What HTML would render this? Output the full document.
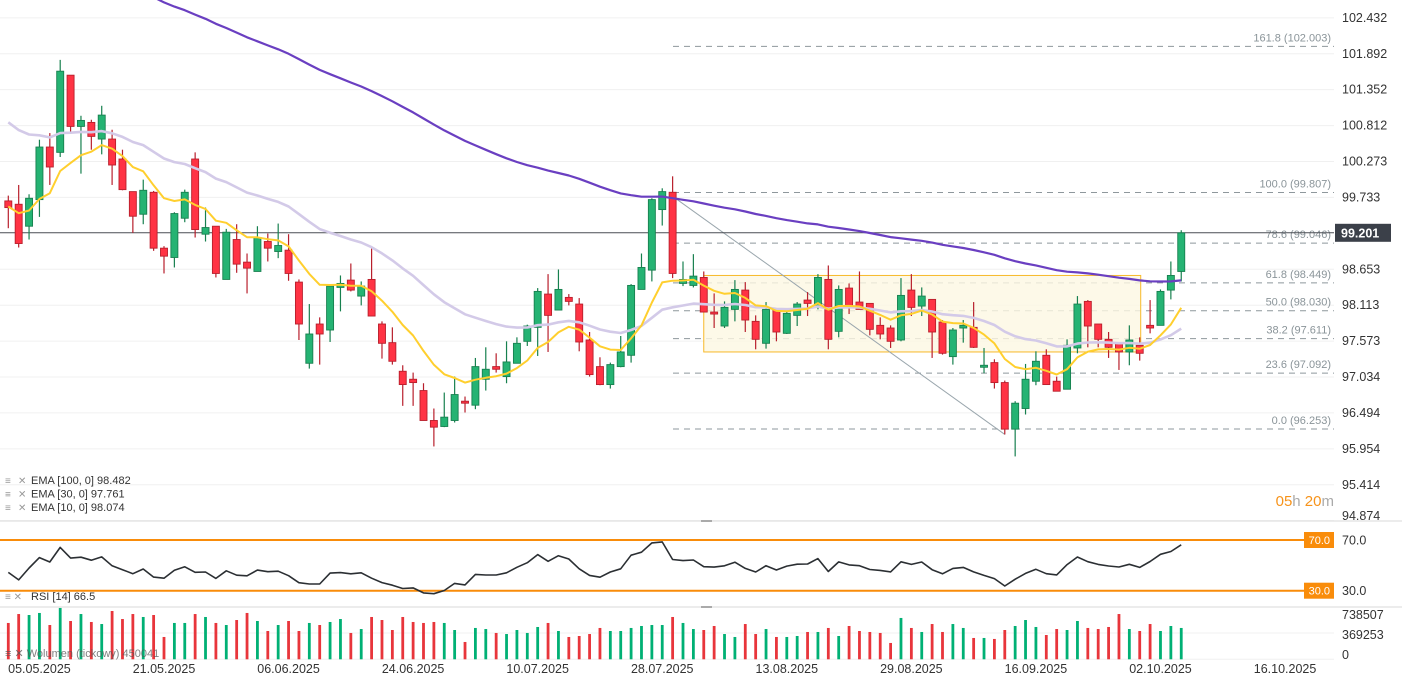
<!DOCTYPE html>
<html><head><meta charset="utf-8">
<style>
html,body{margin:0;padding:0;background:#fff;}
svg{display:block;font-family:"Liberation Sans",sans-serif;}
</style></head>
<body>
<svg id="chart" width="1402" height="689" viewBox="0 0 1402 689" xmlns="http://www.w3.org/2000/svg">
<defs><clipPath id="mainClip"><rect x="0" y="0" width="1334" height="520"/></clipPath></defs>
<g id="grid"></g>
<g id="fib"></g>
<g id="main" clip-path="url(#mainClip)"></g>
<g id="rsi"></g>
<g id="vol"></g>
<g id="axes"></g>
</svg>
<script>
// ---- data ----
const dates = ["05.05.2025","21.05.2025","06.06.2025","24.06.2025","10.07.2025","28.07.2025","13.08.2025","29.08.2025","16.09.2025","02.10.2025","16.10.2025"];
const dateIdx = [3,15,27,39,51,63,75,87,99,111,123];
const opens = [99.68,99.63,99.30,99.70,100.49,100.41,101.57,100.80,100.86,100.61,100.61,100.31,99.82,99.48,99.81,98.97,98.83,99.42,100.31,99.18,99.30,98.50,99.10,98.76,98.62,99.07,98.92,98.94,98.46,97.24,97.83,97.74,98.38,98.49,98.25,98.50,97.83,97.55,97.12,97.00,96.83,96.38,96.29,96.38,96.67,96.61,97.00,97.19,97.04,97.24,97.57,97.78,98.28,98.04,98.23,98.13,97.59,97.19,96.92,97.19,97.36,98.35,98.64,99.55,99.81,98.44,98.41,98.53,98.01,97.80,98.05,98.34,97.87,97.54,98.04,97.69,97.96,98.19,98.08,98.50,97.72,98.37,98.16,98.14,97.81,97.77,97.59,98.34,98.10,98.20,97.86,97.34,97.77,97.78,97.18,97.25,96.95,96.25,96.56,96.97,97.36,96.97,96.85,97.47,98.17,97.83,97.60,97.53,97.41,97.51,97.81,97.81,98.34,98.62];
const highs = [99.76,99.92,99.78,100.60,100.70,101.80,101.57,100.96,100.90,101.11,100.75,100.45,99.82,100.00,99.83,99.00,99.51,99.85,100.41,99.58,99.30,99.26,99.33,98.89,99.30,99.19,99.34,99.18,98.50,98.13,97.93,98.40,98.56,98.74,98.47,98.97,97.87,97.78,97.21,97.10,96.94,96.56,96.80,97.04,96.74,97.32,97.48,97.39,97.57,97.63,97.82,98.37,98.58,98.65,98.28,98.22,97.71,97.33,97.25,97.65,98.43,98.89,99.72,99.87,100.05,98.77,98.88,98.62,98.29,98.17,98.49,98.46,97.96,98.16,98.07,98.02,98.16,98.31,98.58,98.71,98.41,98.44,98.62,98.14,97.93,97.81,98.52,98.58,98.38,98.20,97.89,97.77,97.89,98.16,97.47,97.30,96.98,96.67,97.23,97.42,97.45,97.04,97.60,98.25,98.19,97.83,97.71,97.53,97.81,97.63,98.19,98.35,98.77,99.24];
const lows = [99.27,98.98,99.10,99.44,99.92,100.34,100.72,100.09,100.45,100.38,99.92,99.84,99.20,99.33,98.93,98.59,98.68,99.36,99.13,99.07,98.53,98.50,98.60,98.29,98.62,98.77,98.82,98.48,97.59,97.16,97.22,97.56,98.02,98.32,98.11,97.95,97.31,97.22,96.60,96.60,96.38,95.99,96.28,96.35,96.50,96.55,96.83,97.10,96.94,97.24,97.50,97.35,97.41,98.04,98.11,97.42,97.04,96.91,96.86,97.18,97.25,98.35,98.47,99.31,98.52,98.40,98.38,98.01,97.77,97.77,97.87,97.71,97.45,97.46,97.57,97.68,97.80,97.95,98.05,97.45,97.63,97.98,98.05,97.66,97.60,97.47,97.57,97.95,97.95,97.32,97.37,97.22,97.55,97.47,97.09,96.86,96.17,95.84,96.47,96.91,96.92,96.82,96.85,97.39,97.48,97.48,97.32,97.14,97.21,97.28,97.69,97.81,98.20,98.47];
const closes = [99.58,99.04,99.72,100.49,100.19,101.63,100.80,100.89,100.65,100.97,100.22,99.85,99.45,99.84,98.97,98.85,99.49,99.81,99.25,99.28,98.59,99.21,98.73,98.67,99.13,98.97,99.01,98.59,97.83,97.68,97.68,98.40,98.44,98.34,98.40,97.95,97.54,97.27,96.92,96.95,96.38,96.28,96.43,96.77,96.64,97.19,97.15,97.15,97.26,97.54,97.80,98.32,97.96,98.35,98.17,97.56,97.07,96.92,97.22,97.41,98.41,98.68,99.70,99.82,98.59,98.50,98.55,98.01,97.98,98.08,98.35,97.89,97.60,98.05,97.71,97.99,98.13,98.14,98.53,97.60,98.35,98.11,98.05,97.75,97.68,97.57,98.26,98.08,98.25,97.71,97.39,97.74,97.81,97.48,97.21,96.95,96.25,96.64,97.00,97.27,96.92,96.82,97.51,98.13,97.80,97.60,97.48,97.41,97.59,97.39,97.77,98.32,98.56,99.20];
const volumesK = [516,643,629,658,487,729,544,643,530,501,686,572,643,601,629,317,516,516,643,601,516,487,558,658,544,402,487,544,402,516,487,530,572,374,430,601,558,416,601,530,516,530,516,416,246,445,430,374,359,416,374,459,516,402,317,331,359,445,402,402,445,473,487,487,601,516,430,416,473,359,317,501,359,430,317,317,331,388,388,445,331,473,402,388,374,232,587,445,388,501,388,501,445,303,303,289,416,473,558,459,345,430,416,544,445,430,459,643,430,402,501,402,473,445];
const priceTicks = [102.432,101.892,101.352,100.812,100.273,99.733,98.653,98.113,97.573,97.034,96.494,95.954,95.414,94.874];
const fibPct = ["161.8","100.0","78.6","61.8","50.0","38.2","23.6","0.0"];
const fibPrice = [102.003,99.807,99.046,98.449,98.030,97.611,97.092,96.253];
const emaPeriods = [100,30,10];
const emaSeeds = [103.65,100.95,99.60];
const emaLast = ["98.482","97.761","98.074"];
const lastPrice = 99.201;
const rsiSeedGain = 0.12, rsiSeedLoss = 0.15, rsiLast = "66.5";
const volMax = 738507;

// ---- scales ----
const NS="http://www.w3.org/2000/svg";
const X0=8.3, DX=10.38;
const xC = i => X0 + i*DX;
const yP = p => (102.70 - p)/0.01503;
const yR = v => 590.7 - (v-30)*(50.7/40);
const yV = v => 659.3 - v/volMax*52;
function mk(tag, attrs, parent){const e=document.createElementNS(NS,tag);for(const k in attrs)e.setAttribute(k,attrs[k]);parent.appendChild(e);return e;}
const grid=document.getElementById('grid'), fib=document.getElementById('fib'), main=document.getElementById('main'), rsiG=document.getElementById('rsi'), volG=document.getElementById('vol'), axes=document.getElementById('axes');

// grid + price axis
priceTicks.forEach((p,i)=>{
  const y=yP(p);
  const l=mk('line',{x1:0,x2:1334,y1:y,y2:y,stroke:'#f0f0f0','stroke-width':1},grid);
  
  
  const t=mk('text',{x:1342,y:Math.min(y,516)+4,'font-size':12.5,fill:'#333'},axes);
  t.textContent=p.toFixed(3);
  
  
});
// pane separators
[[521,'rsi-pane-separator'],[607,'volume-pane-separator']].forEach(([y,n])=>{
  const l=mk('line',{x1:0,x2:1402,y1:y,y2:y,stroke:'#d8d8d8','stroke-width':1},axes);
  
  
  const h=mk('rect',{x:701,y:y-1,width:11,height:2,fill:'#aaa'},axes);
  
  
});
[633,659.3].forEach(y=>{const l=mk('line',{x1:0,x2:1334,y1:y,y2:y,stroke:'#f0f0f0'},grid);
  
  });

// fib retracement
fibPrice.forEach((p,i)=>{
  const y=yP(p);
  const l=mk('line',{x1:673,x2:1334,y1:y,y2:y,stroke:'#8e979c','stroke-width':1,'stroke-dasharray':'6 5'},fib);
  
  
  const t=mk('text',{x:1331,y:y-5,'font-size':11,fill:'#8a9499','text-anchor':'end'},fib);
  t.textContent=fibPct[i]+' ('+p.toFixed(3)+')';
  
  
});
// range rectangle
const rect=mk('rect',{x:xC(67),y:yP(98.56),width:xC(109)-xC(67)+1,height:yP(97.41)-yP(98.56),fill:'#fdf7e2','fill-opacity':0.8,stroke:'#f7b928','stroke-width':1},main);


// fib trend line
const ft=mk('line',{x1:xC(64),y1:yP(highs[64])+20,x2:xC(96),y2:yP(lows[96]),stroke:'#9aa6ad','stroke-width':1},main);


// current price line
const cpl=mk('line',{x1:0,x2:1334,y1:yP(lastPrice),y2:yP(lastPrice),stroke:'#4a4f55','stroke-width':1},main);



// candles
closes.forEach((c,i)=>{
  const up=c>=opens[i];
  const g=mk('g',{},main);
  
  
  const x=xC(i);
  mk('line',{x1:x,x2:x,y1:yP(highs[i]),y2:yP(lows[i]),stroke:up?'#17804f':'#b81f2c','stroke-width':1.2},g);
  const top=yP(Math.max(c,opens[i])), bot=yP(Math.min(c,opens[i]));
  mk('rect',{x:x-3.5,y:top,width:7,height:Math.max(bot-top,1.5),fill:up?'#25b373':'#ff3344',stroke:up?'#17804f':'#b81f2c','stroke-width':0.9},g);
});

// EMAs (drawn over candles)
const emaColors=['#6a3fc1','#d3cae8','#ffcf2e'];
const emaWidths=[2.2,2.6,2];
const emaNames=['ema-100-line','ema-30-line','ema-10-line'];
emaPeriods.forEach((n,k)=>{
  const a=2/(n+1); let e=emaSeeds[k]; const pts=[];
  closes.forEach((c,i)=>{e=e+(c-e)*a;pts.push(xC(i).toFixed(1)+','+yP(e).toFixed(1));});
  const pl=mk('polyline',{points:pts.join(' '),fill:'none',stroke:emaColors[k],'stroke-width':emaWidths[k],'stroke-linejoin':'round'},main);
  
  
});

// last price box
const lb=mk('rect',{x:1335,y:yP(lastPrice)-9,width:56,height:18,fill:'#3b4049'},axes);


const lt=mk('text',{x:1341,y:yP(lastPrice)+4.5,'font-size':12.5,fill:'#fff','font-weight':'bold'},axes);
lt.textContent=lastPrice.toFixed(3);



// legend
const legTexts=emaPeriods.map((n,k)=>'EMA ['+n+', 0] '+emaLast[k]);
legTexts.forEach((s,k)=>{
  const y=484+k*13.5;
  const ic=mk('text',{x:5,y:y,'font-size':10,fill:'#999'},axes); ic.textContent='≡';
  
  
  const cx=mk('text',{x:18,y:y,'font-size':10,fill:'#999'},axes); cx.textContent='✕';
  
  
  const t=mk('text',{x:31,y:y,'font-size':11,fill:'#333'},axes); t.textContent=s;
  
  
});
// countdown
const cd=mk('text',{x:1334,y:506,'font-size':15,'text-anchor':'end',fill:'#f7931a'},axes);


cd.innerHTML='05<tspan fill="#aaa">h</tspan> 20<tspan fill="#aaa">m</tspan>';

// RSI
[70,30].forEach(v=>{
  const l=mk('line',{x1:0,x2:1334,y1:yR(v),y2:yR(v),stroke:'#f98c0a','stroke-width':2},rsiG);
  
  
  const b=mk('rect',{x:1304,y:yR(v)-8,width:30,height:16,fill:'#f98c0a'},rsiG);
  
  
  const t=mk('text',{x:1330,y:yR(v)+4,'font-size':11,fill:'#fff','text-anchor':'end'},rsiG); t.textContent=v.toFixed(1);
  
  
  const a=mk('text',{x:1342,y:yR(v)+4.5,'font-size':12.5,fill:'#333'},axes); a.textContent=v.toFixed(1);
  
  
});
{
  let ag=rsiSeedGain, al=rsiSeedLoss, prev=closes[0]; const pts=[];
  closes.forEach((c,i)=>{
    if(i>0){const d=c-prev;ag=(ag*13+Math.max(d,0))/14;al=(al*13+Math.max(-d,0))/14;prev=c;}
    const r=100-100/(1+ag/al);
    pts.push(xC(i).toFixed(1)+','+yR(r).toFixed(1));
  });
  const pl=mk('polyline',{points:pts.join(' '),fill:'none',stroke:'#2b2f33','stroke-width':1.6,'stroke-linejoin':'round'},rsiG);
  
  
}
{
  const ic=mk('text',{x:5,y:600,'font-size':10,fill:'#999'},axes); ic.textContent='≡ ✕';
  
  
  const t=mk('text',{x:31,y:600,'font-size':11,fill:'#333'},axes); t.textContent='RSI [14] '+rsiLast;
  
  
}

// volume
volumesK.forEach((v,i)=>{
  const up=closes[i]>=opens[i]; const vv=v*1000; const y=yV(vv);
  const r=mk('rect',{x:xC(i)-1.4,y:y,width:2.8,height:659.3-y,fill:up?'#00b074':'#e8353b'},volG);
  
  
});
{
  const t=mk('text',{x:5,y:657,'font-size':11,fill:'#555','fill-opacity':0.75},axes); t.textContent='≡ ✕ Wolumen (tickowy) 450041';
  
  
}
[[volMax,615],[volMax/2,635],[0,655]].forEach(([v,y])=>{
  const t=mk('text',{x:1342,y:y+4,'font-size':12.5,fill:'#333'},axes); t.textContent=String(Math.floor(v));
  
  
});
// dates
dates.forEach((d,k)=>{
  const t=mk('text',{x:xC(dateIdx[k]),y:673,'font-size':12.5,fill:'#333','text-anchor':'middle'},axes); t.textContent=d;
  
  
});
</script>
</body></html>
